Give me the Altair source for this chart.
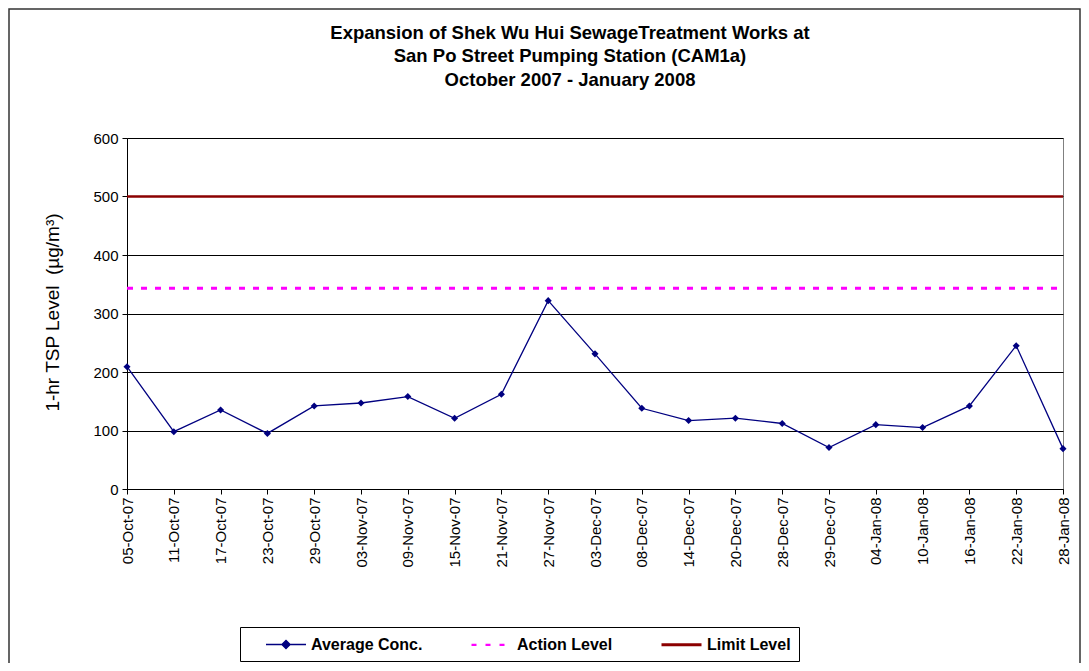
import altair as alt
import pandas as pd

dates = ["05-Oct-07", "11-Oct-07", "17-Oct-07", "23-Oct-07", "29-Oct-07",
         "03-Nov-07", "09-Nov-07", "15-Nov-07", "21-Nov-07", "27-Nov-07",
         "03-Dec-07", "08-Dec-07", "14-Dec-07", "20-Dec-07", "28-Dec-07",
         "29-Dec-07", "04-Jan-08", "10-Jan-08", "16-Jan-08", "22-Jan-08",
         "28-Jan-08"]
avg_conc = [209, 98, 135, 95, 142, 147, 158, 121, 162, 322, 231, 138, 117,
            121, 112, 71, 110, 105, 142, 245, 69]
action_level = 343
limit_level = 500
y_ticks = [0, 100, 200, 300, 400, 500, 600]

series_names = ["Average Conc.", "Action Level", "Limit Level"]
series_colors = ["#000080", "#FF00FF", "#8B0000"]
series_shapes = [
    "M1.125,0L6.125,0M3.625,-0.5L4.125,0L3.625,0.5L3.125,0Z",
    "M1.125,0L1.75,0M2.875,0L3.5,0M4.625,0L5.25,0",
    "M1.125,0L6.125,0",
]
series_widths = [1.5, 3, 3]

title_lines = ["Expansion of Shek Wu Hui SewageTreatment Works at",
               "San Po Street Pumping Station (CAM1a)",
               "October 2007 - January 2008"]

rows = []
for d, v in zip(dates, avg_conc):
    rows.append({"date": d, "value": v, "series": series_names[0]})
    rows.append({"date": d, "value": action_level, "series": series_names[1]})
    rows.append({"date": d, "value": limit_level, "series": series_names[2]})
df = pd.DataFrame(rows)

FONT = "Liberation Sans"
W, H = 936, 351

x_enc = alt.X("date:N", sort=dates,
              scale=alt.Scale(type="point", padding=0, domain=dates),
              axis=alt.Axis(labelAngle=270, labelFontSize=15, tickSize=5,
                            labelPadding=3, grid=False, title="Date",
                            titleFontSize=19, titleFontWeight="normal",
                            titleX=468, titleY=458, titleBaseline="middle",
                            titleAlign="center"))
y_enc = alt.Y("value:Q", scale=alt.Scale(domain=[0, 600]),
              axis=alt.Axis(values=y_ticks, grid=True, tickSize=5,
                            labelPadding=4, labelFontSize=15,
                            title="1-hr TSP Level\u00a0 (µg/m³)",
                            titleFontSize=19, titleFontWeight="normal",
                            titleX=-75, titleY=174, titleAngle=270,
                            titleBaseline="middle", titleAlign="center"))

base = alt.Chart(df).encode(x=x_enc, y=y_enc)

limit = base.transform_filter(alt.datum.series == "Limit Level").mark_line(
    color="#8B0000", strokeWidth=2.5)
action = base.transform_filter(alt.datum.series == "Action Level").mark_line(
    color="#FF00FF", strokeWidth=3, strokeDash=[6, 8])
avg_line = base.transform_filter(alt.datum.series == "Average Conc.").mark_line(
    color="#000080", strokeWidth=1.3)
avg_pts = base.transform_filter(alt.datum.series == "Average Conc.").mark_point(
    shape="diamond", filled=True, color="#000080", size=50, opacity=1)

leg = dict(orient="none", legendX=113, legendY=489, direction="horizontal",
           title=None, labelFont=FONT, labelFontSize=16, labelFontWeight="bold",
           labelColor="#000", symbolSize=256, padding=8, strokeColor="#000",
           fillColor="#ffffff", columnPadding=30, labelOffset=45)

carrier = base.transform_filter("false").mark_point(opacity=1, filled=True).encode(
    fill=alt.Fill("series:N", scale=alt.Scale(domain=series_names, range=series_colors),
                  legend=alt.Legend(**leg)),
    stroke=alt.Stroke("series:N", scale=alt.Scale(domain=series_names, range=series_colors),
                      legend=alt.Legend(**leg)),
    shape=alt.Shape("series:N", scale=alt.Scale(domain=series_names, range=series_shapes),
                    legend=alt.Legend(**leg)),
    strokeWidth=alt.StrokeWidth("series:N",
                                scale=alt.Scale(domain=series_names, range=series_widths),
                                legend=alt.Legend(**leg)),
)

border = alt.Chart(alt.Data(values=[{"k": 0}])).mark_rect(
    fillOpacity=0, stroke="#333333", strokeWidth=1.5).encode(
    x=alt.value(-118), x2=alt.value(953), y=alt.value(-129), y2=alt.value(700))

chart = alt.layer(border, limit, action, avg_line, avg_pts, carrier).properties(
    width=W, height=H,
    title=alt.TitleParams(text=title_lines, fontSize=18.5, fontWeight="bold",
                          font=FONT, color="#000", anchor="middle", frame="group",
                          dx=-25, dy=81, lineHeight=23.5, offset=0),
    padding={"left": 119, "top": 130, "right": 18, "bottom": 174},
    autosize=alt.AutoSizeParams(type="none"),
).configure_view(stroke="#808080").configure_axis(
    domainColor="#000", tickColor="#000", labelColor="#000", titleColor="#000",
    labelFont=FONT, titleFont=FONT, gridColor="#000", gridWidth=1,
)

chart.save("out.html", embed_options={"renderer": "svg", "actions": False})
